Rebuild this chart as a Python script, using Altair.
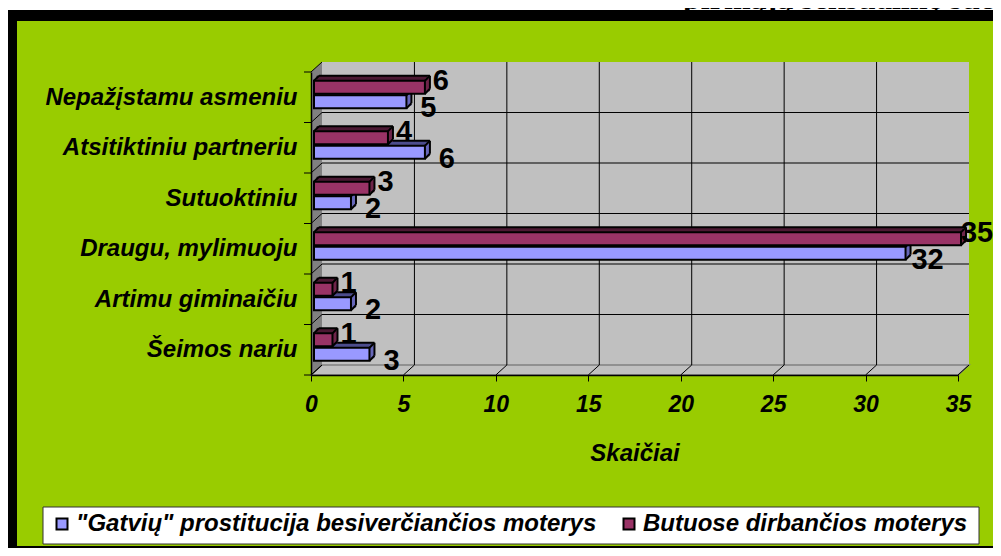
import altair as alt
import pandas as pd

# ---------------- data ----------------
categories = ["Nepažįstamu asmeniu", "Atsitiktiniu partneriu", "Sutuoktiniu",
              "Draugu, mylimuoju", "Artimu giminaičiu", "Šeimos nariu"]
series_names = ['"Gatvių" prostitucija besiverčiančios moterys',
                "Butuose dirbančios moterys"]
street_values = [5, 6, 2, 32, 2, 3]
brothel_values = [6, 4, 3, 35, 1, 1]
x_ticks = [0, 5, 10, 15, 20, 25, 30, 35]
axis_title = "Skaičiai"
chart_title = "pirmąją seksualinę sueitį"

# ---------------- layout / style ----------------
W_SVG, H_SVG = 985, 540   # whole chart, fits the window with the 8px page margin
PL, PT = 303, 64          # plot origin inside the chart
PW, PH = 647, 303         # front plane of the 3D box
DX, DY = 11, -10          # depth of the 3D box
BX, BD = 3, 5             # bar front shift, bar depth
BAR_H = 13
FONT = "Liberation Sans"
GREEN = "#99CC00"
BLUE, BLUE_TOP, BLUE_SIDE = "#9999FF", "#4C4C8C", "#6666B8"
MAR, MAR_TOP, MAR_SIDE = "#993366", "#4C1933", "#6E2449"
RIGHT = W_SVG - PL
BOTTOM = H_SVG - PT

xs = alt.Scale(domain=[0, 35], range=[0, PW], nice=False, zero=False)
ys = alt.Scale(domain=[0, len(categories)], range=[0, PH], nice=False, zero=False)
cs = alt.Scale(domain=series_names, range=[BLUE, MAR])

label_expr = "[" + ",".join("'" + c + "'" for c in categories) + "][floor(datum.value)]"
X_AX = alt.Axis(
    values=x_ticks, title=axis_title, grid=False, domain=True, domainColor="black",
    domainWidth=1.5, ticks=True, tickColor="black", tickSize=6, tickWidth=1,
    labelFont=FONT, labelFontSize=23, labelFontWeight="bold", labelFontStyle="italic",
    labelColor="black", labelPadding=12, labelFlush=False, labelOverlap=False, format="d",
    titleFont=FONT, titleFontSize=24, titleFontWeight="bold", titleFontStyle="italic",
    titleColor="black", titlePadding=25, zindex=1)
Y_AX = alt.Axis(
    values=[i + 0.5 for i in range(len(categories))], labelExpr=label_expr, title="",
    grid=False, domain=True, domainColor="black", domainWidth=1.5, ticks=False,
    tickSize=0, labelFont=FONT, labelFontSize=24, labelFontWeight="bold",
    labelFontStyle="italic", labelColor="black", labelPadding=14, labelAlign="right",
    labelBaseline="middle", labelOverlap=False, labelFlush=False, labelLimit=400, zindex=1)


def xq(field):
    return alt.X(field + ":Q", scale=xs, axis=X_AX)


def yq(field):
    return alt.Y(field + ":Q", scale=ys, axis=Y_AX)


one = alt.Data(values=[{"k": 0}])


def make_df(values, name):
    return pd.DataFrame({"cat": categories, "idx": list(range(len(categories))),
                         "val": values, "zero": [0] * len(values),
                         "series": [name] * len(values)})


street_df = make_df(street_values, series_names[0])
brothel_df = make_df(brothel_values, series_names[1])
tick_df = pd.DataFrame({"t": x_ticks})
bound_df = pd.DataFrame({"b": list(range(len(categories) + 1))})

legend = alt.Legend(orient="none", legendX=-266, legendY=435, direction="horizontal",
                    title=None, fillColor="transparent", strokeColor="transparent",
                    padding=5, symbolType="square", symbolSize=121,
                    symbolStrokeColor="black", symbolStrokeWidth=2, symbolOpacity=1,
                    labelFont=FONT, labelFontSize=24, labelFontWeight="bold",
                    labelFontStyle="italic", labelColor="black", labelLimit=1000,
                    labelOffset=2, columnPadding=20)

# ---------------- decorations ----------------
black = alt.Chart(one).mark_rect(color="black").encode(
    x=alt.value(-PL - 1), x2=alt.value(RIGHT), y=alt.value(-PT + 2), y2=alt.value(BOTTOM))
green = alt.Chart(one).mark_rect(color=GREEN).encode(
    x=alt.value(-PL + 9), x2=alt.value(RIGHT), y=alt.value(-PT + 13),
    y2=alt.value(BOTTOM - 2))
title = alt.Chart(one).mark_text(text=chart_title, font="Liberation Serif", fontSize=32,
                                 fontWeight="bold", align="left", baseline="alphabetic",
                                 color="black").encode(x=alt.value(372), y=alt.value(-63))
legend_box = alt.Chart(one).mark_rect(fill="white", stroke="#333333", strokeWidth=1).encode(
    x=alt.value(-268), x2=alt.value(668), y=alt.value(435), y2=alt.value(472))

back_wall = alt.Chart(one).mark_rect(color="#C0C0C0").encode(
    x=alt.value(DX), x2=alt.value(PW + DX), y=alt.value(DY), y2=alt.value(PH + DY))
side_path = f"M0,0L{DX},{DY}L{DX},{PH + DY}L0,{PH}Z"
side_wall = alt.Chart(one).mark_point(shape=side_path, size=4, filled=True, color="#808080",
                                      opacity=1, strokeWidth=0).encode(
    x=alt.value(0), y=alt.value(0))
floor_path = f"M0,{PH}L{DX},{PH + DY}L{PW + DX},{PH + DY}L{PW},{PH}Z"
floor = alt.Chart(one).mark_point(shape=floor_path, size=4, filled=True, fill="#C0C0C0",
                                  stroke="#808080", strokeWidth=1.5, opacity=1).encode(
    x=alt.value(0), y=alt.value(0))

vgrid = alt.Chart(tick_df).transform_filter("datum.t > 0 && datum.t < 35").mark_rule(
    color="black", strokeWidth=1, xOffset=DX).encode(
    x=xq("t"), y=alt.value(DY), y2=alt.value(PH + DY))
floor_grid = alt.Chart(tick_df).mark_rule(color="black", strokeWidth=1, xOffset=DX,
                                          x2Offset=0).encode(
    x=xq("t"), x2=alt.X2("t:Q"), y=alt.value(PH + DY), y2=alt.value(PH))
hgrid = alt.Chart(bound_df).transform_filter(
    f"datum.b > 0 && datum.b < {len(categories)}").mark_rule(
    color="black", strokeWidth=1, yOffset=DY).encode(
    y=yq("b"), x=alt.value(DX), x2=alt.value(PW + DX))
side_grid = alt.Chart(bound_df).mark_rule(color="black", strokeWidth=1, y2Offset=DY).encode(
    y=yq("b"), y2=alt.Y2("b:Q"), x=alt.value(0), x2=alt.value(DX))
ytick = alt.Chart(bound_df).mark_rule(color="black", strokeWidth=1).encode(
    y=yq("b"), x=alt.value(-7), x2=alt.value(0))


# ---------------- 3D bars ----------------
def bar3d(df, yc, front, top, side):
    base = alt.Chart(df).transform_calculate(c="datum.idx + 0.5")
    X0 = xq("zero")
    XV = xq("val")
    X2V = alt.X2("val:Q")
    X20 = alt.X2("zero:Q")
    Y = yq("c")
    Y2 = alt.Y2("c:Q")
    ft = yc - BAR_H / 2
    fb = yc + BAR_H / 2
    layers = [
        base.mark_rect(color=top, xOffset=BX + BD / 2, x2Offset=BX + BD / 2,
                       yOffset=ft - BD, y2Offset=ft).encode(x=X0, x2=X2V, y=Y, y2=Y2),
        base.mark_rect(color=side, xOffset=BX, x2Offset=BX + BD,
                       yOffset=ft - BD / 2, y2Offset=fb - BD / 2).encode(x=XV, x2=X2V, y=Y, y2=Y2),
        base.mark_rect(stroke="black", strokeWidth=2, opacity=1, xOffset=BX, x2Offset=BX,
                       yOffset=ft, y2Offset=fb).encode(
            x=X0, x2=X2V, y=Y, y2=Y2,
            color=alt.Color("series:N", scale=cs, legend=legend)),
    ]
    edges = [
        (X0, X20, BX, BX + BD, ft, ft - BD),
        (X0, X2V, BX + BD, BX + BD, ft - BD, ft - BD),
        (XV, X2V, BX, BX + BD, ft, ft - BD),
        (XV, X2V, BX + BD, BX + BD, ft - BD, fb - BD),
        (XV, X2V, BX, BX + BD, fb, fb - BD),
    ]
    for xa, xb, xo, x2o, yo, y2o in edges:
        layers.append(base.mark_rule(color="black", strokeWidth=2, xOffset=xo, x2Offset=x2o,
                                     yOffset=yo, y2Offset=y2o).encode(x=xa, x2=xb, y=Y, y2=Y2))
    return layers


def labels(df, dx, dy):
    return alt.Chart(df).transform_calculate(c="datum.idx + 0.5").mark_text(
        font=FONT, fontSize=29, fontWeight="bold", color="black", align="center",
        baseline="middle", dx=dx, dy=dy).encode(
        x=xq("val"), y=yq("c"), text=alt.Text("val:Q", format="d"))


layers = [title, black, green, legend_box, back_wall, side_wall, floor, vgrid, hgrid,
          side_grid, floor_grid, ytick]
layers += bar3d(street_df, 4.5, BLUE, BLUE_TOP, BLUE_SIDE)
layers += bar3d(brothel_df, -10, MAR, MAR_TOP, MAR_SIDE)
layers += [labels(street_df, 25, 11), labels(brothel_df, 19, -16)]

chart = alt.layer(*layers).properties(
    width=PW, height=PH,
    padding={"left": PL, "top": PT, "right": W_SVG - PL - PW, "bottom": H_SVG - PT - PH},
    autosize=alt.AutoSizeParams(type="none"),
    background="white",
).configure_view(strokeWidth=0)

chart.save("out.html", embed_options={"renderer": "svg", "actions": False})
